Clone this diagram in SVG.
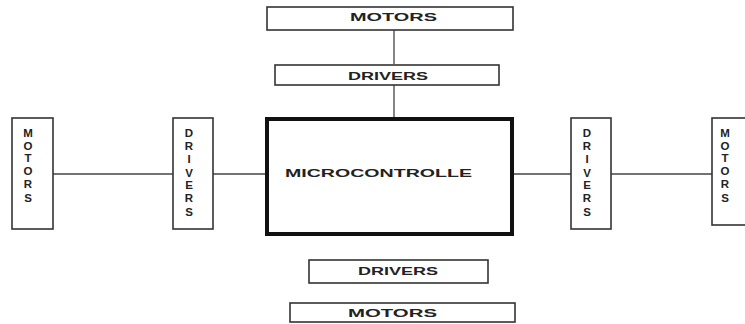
<svg xmlns="http://www.w3.org/2000/svg" width="745" height="324" viewBox="0 0 745 324">
<style>
.box{fill:#fff;stroke:#333;stroke-width:1.6}
.mc{fill:#fff;stroke:#111;stroke-width:4}
.ln{stroke:#444;stroke-width:1.3;fill:none}
.t{font-family:"Liberation Sans",Arial,sans-serif;font-weight:bold;font-size:10.5px;fill:#222}
.v{font-family:"Liberation Sans",Arial,sans-serif;font-weight:bold;font-size:11.5px;fill:#222;text-anchor:middle}
</style>
<rect width="745" height="324" fill="#fff"/>
<g id="connectors">
<line class="ln" x1="394" y1="30" x2="394" y2="64"/>
<line class="ln" x1="394" y1="85" x2="394" y2="118"/>
<line class="ln" x1="53" y1="174" x2="173" y2="174"/>
<line class="ln" x1="213" y1="174" x2="265" y2="174"/>
<line class="ln" x1="513" y1="174" x2="571" y2="174"/>
<line class="ln" x1="611" y1="174" x2="712" y2="174"/>
</g>
<g id="motors-top">
<rect class="box" x="267" y="7" width="246" height="23"/>
<text class="t" x="350" y="21" textLength="87" lengthAdjust="spacingAndGlyphs">MOTORS</text>
</g>
<g id="drivers-top">
<rect class="box" x="275" y="65" width="224" height="20"/>
<text class="t" x="348" y="80" textLength="80" lengthAdjust="spacingAndGlyphs">DRIVERS</text>
</g>
<g id="microcontroller">
<rect class="mc" x="267" y="119" width="245" height="115"/>
<text class="t" x="285" y="177" textLength="187" lengthAdjust="spacingAndGlyphs">MICROCONTROLLE</text>
</g>
<g id="motors-left">
<rect class="box" x="12" y="118" width="41" height="111"/>
<text class="v"><tspan x="28" y="137">M</tspan><tspan x="28" y="150">O</tspan><tspan x="28" y="162">T</tspan><tspan x="28" y="175">O</tspan><tspan x="28" y="188">R</tspan><tspan x="28" y="202">S</tspan></text>
</g>
<g id="drivers-left">
<rect class="box" x="173" y="118" width="40" height="111"/>
<text class="v"><tspan x="189" y="137">D</tspan><tspan x="189" y="150">R</tspan><tspan x="189" y="163">I</tspan><tspan x="189" y="177">V</tspan><tspan x="189" y="189">E</tspan><tspan x="189" y="202">R</tspan><tspan x="189" y="216">S</tspan></text>
</g>
<g id="drivers-right">
<rect class="box" x="571" y="118" width="40" height="111"/>
<text class="v"><tspan x="587" y="137">D</tspan><tspan x="587" y="150">R</tspan><tspan x="587" y="163">I</tspan><tspan x="587" y="177">V</tspan><tspan x="587" y="189">E</tspan><tspan x="587" y="202">R</tspan><tspan x="587" y="216">S</tspan></text>
</g>
<g id="motors-right">
<rect class="box" x="712" y="118" width="40" height="107"/>
<text class="v"><tspan x="725" y="137">M</tspan><tspan x="725" y="150">O</tspan><tspan x="725" y="162">T</tspan><tspan x="725" y="175">O</tspan><tspan x="725" y="188">R</tspan><tspan x="725" y="202">S</tspan></text>
</g>
<g id="drivers-bottom">
<rect class="box" x="309" y="260" width="179" height="23"/>
<text class="t" x="358" y="275" textLength="80" lengthAdjust="spacingAndGlyphs">DRIVERS</text>
</g>
<g id="motors-bottom">
<rect class="box" x="290" y="303" width="225" height="19"/>
<text class="t" x="348" y="317" textLength="89" lengthAdjust="spacingAndGlyphs">MOTORS</text>
</g>
</svg>
